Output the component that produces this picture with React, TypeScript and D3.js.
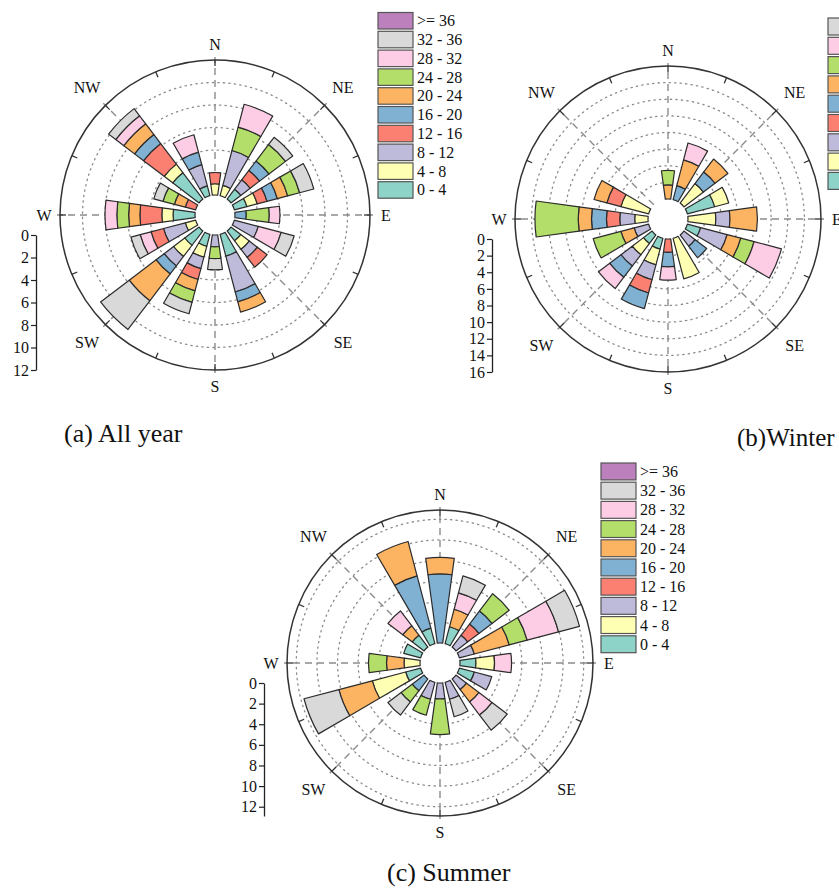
import React, { useEffect, useRef } from 'react';
import * as d3 from 'd3';

// 16 directions, clockwise from north
const directions = ['N', 'NNE', 'NE', 'ENE', 'E', 'ESE', 'SE', 'SSE', 'S', 'SSW', 'SW', 'WSW', 'W', 'WNW', 'NW', 'NNW'];
const compassLabels = ['N', 'NE', 'E', 'SE', 'S', 'SW', 'W', 'NW'];
const binLabels = ['0 - 4', '4 - 8', '8 - 12', '12 - 16', '16 - 20', '20 - 24', '24 - 28', '28 - 32', '32 - 36', '>= 36'];
const binColors = ['#8dd3c7', '#ffffb3', '#bebada', '#fb8072', '#80b1d3', '#fdb462', '#b3de69', '#fccde5', '#d9d9d9', '#bc80bd'];

// frequency (%) per direction, one value per bin (0-4 ... >=36)
const allYear = [
  [0, 1.0, 0, 1.0, 0, 0, 0, 0, 0, 0],
  [0, 0.95, 3.2, 0, 0, 0, 2.15, 2.1, 0, 0],
  [1.1, 0, 1.05, 1.05, 1.05, 0, 1.85, 0, 0.8, 0],
  [1.15, 0.95, 0, 0.9, 0.95, 0.95, 1.1, 0, 1.3, 0],
  [0, 0, 0, 0, 1.0, 0, 2.05, 0.95, 0, 0],
  [0, 0, 2.2, 0, 0, 0, 0, 2.1, 1.2, 0],
  [1.1, 0.95, 0.9, 1.1, 0, 0, 0, 0, 0, 0],
  [2.0, 0, 3.3, 0, 0.9, 0.95, 0, 0, 0, 0],
  [0, 0, 1.05, 0, 0, 0, 1.05, 0, 1.0, 0],
  [1.1, 1.0, 1.05, 1.0, 0, 1.05, 1.05, 0, 1.05, 0],
  [1.6, 1.25, 1.05, 0, 0.9, 3.0, 0, 0, 3.2, 0],
  [0, 0.95, 2.0, 1.15, 0, 0, 0, 1.0, 0.85, 0],
  [1.95, 1.0, 0, 1.95, 0, 1.0, 1.05, 1.05, 0, 0],
  [0, 0, 0, 0.95, 0, 1.0, 1.05, 0, 0.85, 0],
  [2.95, 0.95, 0, 2.3, 1.0, 1.2, 0, 0.9, 0.8, 0],
  [0.9, 0, 1.95, 0, 1.15, 0, 0, 1.6, 0, 0],
];

const winter = [
  [0, 0, 0, 0, 0, 1.7, 1.75, 0, 0, 0],
  [0, 0, 0, 0, 1.75, 3.2, 0, 2.1, 0, 0],
  [0, 2.95, 0, 0, 1.75, 1.95, 0, 0, 0, 0],
  [3.4, 1.75, 0, 0, 0, 0, 0, 0, 0, 0],
  [0, 3.35, 1.7, 0, 0, 3.3, 0, 0, 0, 0],
  [1.65, 0, 3.3, 0, 0, 1.7, 1.65, 3.4, 0, 0],
  [0, 0, 1.7, 0, 1.75, 0, 0, 0, 0, 0],
  [0, 5.05, 0, 0, 0, 0, 0, 0, 0, 0],
  [0, 0, 0, 1.6, 1.75, 0, 0, 1.6, 0, 0],
  [1.35, 1.95, 1.85, 1.65, 1.95, 0, 0, 0, 0, 0],
  [1.3, 1.7, 1.7, 0, 1.7, 0, 0, 1.7, 0, 0],
  [0, 0, 1.8, 0, 0, 1.65, 3.45, 0, 0, 0],
  [0, 1.6, 1.8, 1.6, 1.8, 1.6, 5.2, 0, 0, 0],
  [0, 3.45, 0, 1.75, 0, 1.6, 0, 0, 0, 0],
  [0, 0, 0, 0, 0, 0, 0, 0, 0, 0],
  [0, 0, 0, 0, 0, 0, 0, 0, 0, 0],
];

const summer = [
  [0, 0, 0, 0, 6.7, 1.6, 0, 0, 0, 0],
  [1.7, 0, 0, 0, 0, 1.75, 0, 1.65, 1.7, 0],
  [0, 0, 1.45, 1.35, 1.6, 0, 2.1, 0, 0, 0],
  [0, 0, 1.5, 0, 0, 3.5, 1.8, 3.15, 2.1, 0],
  [1.55, 1.8, 0, 0, 0, 0, 0, 1.65, 0, 0],
  [1.5, 0, 1.75, 0, 0, 0, 0, 0, 0, 0],
  [0, 0, 1.3, 0, 0, 1.5, 0, 1.6, 1.85, 0],
  [0, 0, 1.7, 0, 0, 0, 0, 0, 1.75, 0],
  [0, 0, 1.55, 0, 0, 0, 3.45, 0, 0, 0],
  [0, 0, 1.7, 0, 0, 0, 1.6, 0, 0, 0],
  [0, 0, 0, 0, 1.45, 0, 1.35, 0, 1.6, 0],
  [1.5, 3.35, 0, 0, 0, 3.35, 0, 0, 3.5, 0],
  [0, 1.55, 0, 0, 0, 1.7, 1.75, 0, 0, 0],
  [1.7, 0, 0, 0, 0, 0, 0, 0, 0, 0],
  [1.45, 0, 0, 0, 0, 1.15, 0, 1.8, 0, 0],
  [1.55, 0, 0, 0, 5.25, 3.45, 0, 0, 0, 0],
];

const allYearTicks = [0, 2, 4, 6, 8, 10, 12];
const winterTicks = [0, 2, 4, 6, 8, 10, 12, 14, 16];
const summerTicks = [0, 2, 4, 6, 8, 10, 12];

const serif = '"Liberation Serif", "Times New Roman", serif';

const RoseChart = ({ cx, cy, maxValue, ticks, rows, axisX, outerR }) => {
  const axisRef = useRef(null);
  const r0 = 20;
  const rScale = d3.scaleLinear().domain([0, maxValue]).range([r0, outerR]);
  const angle = d3.scaleLinear().domain([0, directions.length]).range([0, 2 * Math.PI]);
  const half = (0.69 * Math.PI) / directions.length;

  const records = rows.map((r) => {
    const o = {};
    binLabels.forEach((b, i) => (o[b] = r[i]));
    return o;
  });
  const series = d3.stack().keys(binLabels)(records);
  const arc = d3.arc();

  useEffect(() => {
    const y = d3.scaleLinear().domain([0, maxValue]).range([cy + r0, cy + outerR]);
    const g = d3.select(axisRef.current);
    g.selectAll('*').remove();
    g.call(d3.axisLeft(y).tickValues(ticks).tickSize(5).tickSizeOuter(0).tickPadding(2));
    g.attr('font-family', serif).attr('font-size', 16);
    g.selectAll('.domain').attr('stroke', '#222').attr('stroke-width', 1.3);
    g.selectAll('.tick line').attr('stroke', '#222').attr('stroke-width', 1.2);
    g.selectAll('.tick text').attr('fill', '#111').attr('font-family', serif);
  }, [cy, maxValue, outerR]);

  const grid = ticks.filter((t) => t > 0 && rScale(t) < outerR - 2);

  return (
    <g>
      <g transform={`translate(${cx},${cy})`}>
        <circle r={outerR} fill="white" stroke="none" />
        {grid.map((t) => (
          <circle key={t} r={rScale(t)} fill="none" stroke="#8a8a8a" strokeWidth={1.3}
            strokeDasharray="1.3 4.2" strokeLinecap="round" />
        ))}
        {compassLabels.map((lab, i) => {
          const a = (i * Math.PI) / 4;
          return (
            <line key={lab} x1={Math.sin(a) * r0} y1={-Math.cos(a) * r0}
              x2={Math.sin(a) * (outerR + 3)} y2={-Math.cos(a) * (outerR + 3)}
              stroke="#8c8c8c" strokeWidth={1.4} strokeDasharray="7 5" />
          );
        })}
        {directions.map((d, i) => {
          const a = angle(i);
          return (
            <line key={d} x1={Math.sin(a) * (outerR - 6)} y1={-Math.cos(a) * (outerR - 6)}
              x2={Math.sin(a) * outerR} y2={-Math.cos(a) * outerR} stroke="#333" strokeWidth={1.3} />
          );
        })}
        <circle r={outerR} fill="none" stroke="#333" strokeWidth={1.5} />
        {series.map((s, k) => (
          <g key={s.key}>
            {s.map((p, i) =>
              p[1] - p[0] > 0 ? (
                <path key={i}
                  d={arc({
                    innerRadius: rScale(p[0]),
                    outerRadius: rScale(p[1]),
                    startAngle: angle(i) - half,
                    endAngle: angle(i) + half,
                  })}
                  fill={binColors[k]} stroke="#2b2b2b" strokeWidth={1.2} strokeLinejoin="round" />
              ) : null
            )}
          </g>
        ))}
        {compassLabels.map((lab, i) => {
          const a = (i * Math.PI) / 4;
          const rr = i % 2 === 0 ? outerR + 16 : outerR + 26;
          return (
            <text key={lab} x={Math.sin(a) * rr} y={-Math.cos(a) * rr} textAnchor="middle"
              dominantBaseline="central" fontFamily={serif} fontSize={16} fill="#111">
              {lab}
            </text>
          );
        })}
      </g>
      <g ref={axisRef} transform={`translate(${axisX},0)`} />
    </g>
  );
};

const Legend = ({ x, y, pitch, skipTop, showText = true }) => {
  const items = binLabels.map((b, i) => ({ b, c: binColors[i] })).reverse().slice(skipTop ? 1 : 0);
  return (
    <g>
      {items.map((it, i) => (
        <g key={it.b} transform={`translate(${x},${y + i * pitch})`}>
          <rect width={35} height={pitch - 2.3} fill={it.c} stroke="#555" strokeWidth={1.2} />
          {showText && (
            <text x={39} y={(pitch - 2.3) / 2} dominantBaseline="central" fontFamily={serif}
              fontSize={16} fill="#111">
              {it.b}
            </text>
          )}
        </g>
      ))}
    </g>
  );
};

export default function App() {
  return (
    <svg width={839} height={888} style={{ position: 'absolute', left: 0, top: 0, background: 'white' }}>
      <rect width={839} height={888} fill="white" />
      <RoseChart cx={215} cy={215} maxValue={12} ticks={allYearTicks} rows={allYear} axisX={36} outerR={155} />
      <Legend x={378} y={12.5} pitch={18.8} />
      <text x={64} y={442} fontFamily={serif} fontSize={26} fill="#111">(a) All year</text>

      <RoseChart cx={668} cy={219} maxValue={16} ticks={winterTicks} rows={winter} axisX={492} outerR={153} />
      <Legend x={828} y={18} pitch={19.3} skipTop showText={false} />
      <text x={737} y={446} fontFamily={serif} fontSize={25} fill="#111">(b)Winter</text>

      <RoseChart cx={440} cy={663} maxValue={12.9} ticks={summerTicks} rows={summer} axisX={264} outerR={153} />
      <Legend x={601} y={463} pitch={19.2} />
      <text x={387} y={881} fontFamily={serif} fontSize={26} fill="#111">(c) Summer</text>
    </svg>
  );
}
